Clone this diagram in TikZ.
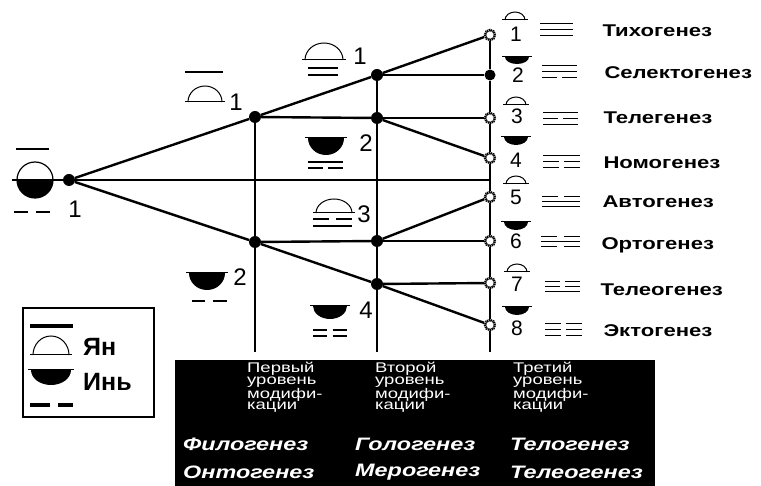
\documentclass[tikz,border=0pt]{standalone}
\usepackage{fontspec}
\usepackage{graphicx}
\setmainfont{Liberation Sans}
\newfontfamily\widefont[FakeStretch=1.3]{Liberation Sans}
\usetikzlibrary{positioning}

\newcommand{\yang}[4]{\draw[line width=1pt] (#1-#3,#2) arc[start angle=180,end angle=0,x radius=#3pt,y radius=#4pt];
\draw[line width=1pt] (#1-#3-3,#2) -- (#1+#3+3,#2);}
\newcommand{\yin}[4]{\fill (#1-#3,#2) arc[start angle=180,end angle=360,x radius=#3pt,y radius=#4pt] -- cycle;
\draw[line width=1pt] (#1-#3-3,#2) -- (#1+#3+3,#2);}
\newcommand{\yao}[4]{\ifnum#4=1 \draw (#1,#3) -- (#2,#3);\else
\draw (#1,#3) -- ({#1+0.42*(#2-#1)},#3) ({#2-0.42*(#2-#1)},#3) -- (#2,#3);\fi}
\newcommand{\wide}[1]{\scalebox{1.32}[1]{#1}}

\tikzset{
dot/.style={circle,fill,inner sep=0pt,minimum size=12pt},
gear/.style={circle,draw,fill=white,inner sep=0pt,minimum size=10pt,line width=2.4pt,dash pattern=on 1.2pt off 0.7pt},
branch/.style={line width=2.4pt},
grid/.style={line width=1.2pt},
num/.style={inner sep=0pt,font=\fontsize{24}{24}\selectfont},
lownum/.style={inner sep=0pt,font=\fontsize{21}{21}\selectfont},
genesis/.style={anchor=west,inner sep=0pt,font=\widefont\bfseries\fontsize{17}{17}\selectfont},
levelbox/.style={anchor=north west,inner sep=0pt,align=left,text=white,font=\fontsize{14}{11.5}\selectfont},
term/.style={anchor=west,inner sep=0pt,text=white,font=\widefont\bfseries\itshape\fontsize{18}{18}\selectfont},
legend/.style={anchor=west,inner sep=0pt,font=\bfseries\fontsize{25}{25}\selectfont},
}

\begin{document}
\begin{tikzpicture}[x=1pt,y=-1pt]
\useasboundingbox (0,0) rectangle (761,486);

\node[dot](r) at (69,180){};
\node[dot](a1) at (255,117){};
\node[dot](a2) at (255,242){};
\node[dot](b1) at (377,75){};
\node[dot](b2) at (377,118){};
\node[dot](b3) at (377,241){};
\node[dot](b4) at (377,284){};
\node[gear](c1) at (490,35){};
\node[dot,minimum size=11pt](c2) at (490,75){};
\node[gear](c3) at (490,118){};
\node[gear](c4) at (490,158){};
\node[gear](c5) at (490,197){};
\node[gear](c6) at (490,241){};
\node[gear](c7) at (490,283){};
\node[gear](c8) at (490,325){};
\coordinate (axl) at (12,180);
\coordinate (axr) at (490,180);
\coordinate (ae) at (255,352);
\coordinate (be) at (377,352);
\coordinate (ce) at (490,352);

\draw[grid] (axl) -- (axr);
\draw[grid] (a1) -- (a2) -- (ae);
\draw[grid] (b1) -- (b2) -- (b3) -- (b4) -- (be);
\draw[grid] (c1) -- (c2) -- (c3) -- (c4) -- (c5) -- (c6) -- (c7) -- (c8) -- (ce);

\draw[branch] (r) -- (a1);
\draw[branch] (r) -- (a2);
\draw[branch] (a1) -- (b1);
\draw[branch] (a1) -- (b2);
\draw[branch] (a2) -- (b3);
\draw[branch] (a2) -- (b4);
\draw[branch] (b1) -- (c1);
\draw[branch] (b1) -- (c2);
\draw[branch] (b2) -- (c3);
\draw[branch] (b2) -- (c4);
\draw[branch] (b3) -- (c5);
\draw[branch] (b3) -- (c6);
\draw[branch] (b4) -- (c7);
\draw[branch] (b4) -- (c8);

\draw[line width=1.2pt] (35,180) circle[radius=18pt];
\fill (17,180) arc[start angle=180,end angle=360,radius=18pt] -- cycle;
\draw[line width=2pt] (16,149) -- (49,149);
\draw[line width=2pt] (14,212) -- (28,212) (36,212) -- (50,212);
\node[num](n0) at (75,209){1};

\yang{205}{102}{17}{16}
\draw[line width=2pt] (185,72) -- (223,72);
\node[num](n11) at (236,102){1};
\yin{207}{273}{18}{17}
\draw[line width=2pt] (192,301) -- (205,301) (213,301) -- (227,301);
\node[num](n12) at (240,277){2};

\begin{scope}[line width=1.2pt]
\yang{324}{60}{19}{17}
\yao{308}{338}{68}{1}
\yao{308}{338}{75}{1}
\node[num](n21) at (360,56){1};
\yin{326}{138}{18}{17}
\yao{308}{343}{162}{1}
\yao{308}{343}{168}{0}
\node[num](n22) at (366,143){2};
\yang{334}{213}{18}{14}
\yao{313}{352}{219}{0}
\yao{313}{352}{226}{1}
\node[num](n23) at (364,214){3};
\yin{330}{306}{17}{13}
\yao{313}{347}{330}{0}
\yao{313}{347}{336}{0}
\node[num](n24) at (366,310){4};
\end{scope}

\begin{scope}[line width=1pt]
\yang{515}{20}{10}{8}
\node[lownum](m1) at (516,34){1};
\yao{540}{573}{24}{1}\yao{540}{573}{30}{1}\yao{540}{573}{36}{1}
\node[genesis](g1) at (602,31){Тихогенез};
\yin{517}{57}{12}{7}
\node[lownum](m2) at (518,75){2};
\yao{542}{577}{66}{1}\yao{542}{577}{72}{1}\yao{542}{577}{78}{0}
\node[genesis](g2) at (604,73){Селектогенез};
\yang{516}{105}{10}{8}
\node[lownum](m3) at (517,116){3};
\yao{543}{578}{113}{1}\yao{543}{578}{119}{0}\yao{543}{578}{125}{1}
\node[genesis](g3) at (603,118){Телегенез};
\yin{516}{137}{12}{8}
\node[lownum](m4) at (516,160){4};
\yao{543}{580}{156}{1}\yao{543}{580}{162}{0}\yao{543}{580}{168}{0}
\node[genesis](g4) at (603,163){Номогенез};
\yang{516}{184}{10}{8}
\node[lownum](m5) at (516,197){5};
\yao{542}{580}{197}{0}\yao{542}{580}{202}{1}\yao{542}{580}{207}{1}
\node[genesis](g5) at (602,202){Автогенез};
\yin{516}{222}{12}{8}
\node[lownum](m6) at (516,241){6};
\yao{541}{580}{237}{0}\yao{541}{580}{242}{1}\yao{541}{580}{247}{0}
\node[genesis](g6) at (601,245){Ортогенез};
\yang{517}{272}{10}{8}
\node[lownum](m7) at (517,284){7};
\yao{545}{580}{282}{0}\yao{545}{580}{287}{0}\yao{545}{580}{292}{1}
\node[genesis](g7) at (600,290){Телеогенез};
\yin{517}{307}{12}{8}
\node[lownum](m8) at (517,328){8};
\yao{545}{582}{324}{0}\yao{545}{582}{330}{0}\yao{545}{582}{336}{0}
\node[genesis](g8) at (603,331){Эктогенез};
\end{scope}

\draw[line width=1.2pt] (23,308) rectangle (154,417);
\draw[line width=4pt] (30,326) -- (73,326);
\begin{scope}[line width=1.2pt]
\yang{51}{355}{18}{19}
\yin{51}{370}{20}{15}
\end{scope}
\draw[line width=4pt] (30,405) -- (50,405) (58,405) -- (73,405);
\node[legend](yang) at (83,347){Ян};
\node[legend](yin) at (83,382){Инь};

\fill (175,360) rectangle (655,486);
\node[levelbox](l1) at (247,362){\wide{Первый}\\\wide{уровень}\\\wide{модифи-}\\\wide{кации}};
\node[levelbox](l2) at (375,362){\wide{Второй}\\\wide{уровень}\\\wide{модифи-}\\\wide{кации}};
\node[levelbox](l3) at (513,362){\wide{Третий}\\\wide{уровень}\\\wide{модифи-}\\\wide{кации}};
\node[term](f1) at (183,444){Филогенез};
\node[term,below=28pt of f1.west,anchor=west](f2){Онтогенез};
\node[term](f3) at (355,444){Гологенез};
\node[term,below=28pt of f3.west,anchor=west](f4){Мерогенез};
\node[term](f5) at (510,444){Телогенез};
\node[term,below=28pt of f5.west,anchor=west](f6){Телеогенез};
\end{tikzpicture}
\end{document}
